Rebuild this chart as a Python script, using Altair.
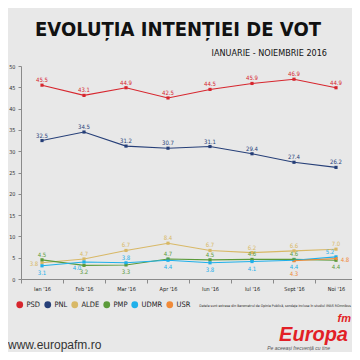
import altair as alt
import pandas as pd

months = ["Ian '16", "Feb '16", "Mar '16", "Apr '16", "Iun '16", "Iul '16", "Sept '16", "Noi '16"]
parties = ["PSD", "PNL", "ALDE", "PMP", "UDMR", "USR"]
colors = ["#d7262e", "#263f78", "#d8b866", "#5b9a3a", "#1fb0ea", "#f08a38"]

psd = [45.5, 43.1, 44.9, 42.5, 44.5, 45.9, 46.9, 44.9]
pnl = [32.5, 34.5, 31.2, 30.7, 31.1, 29.4, 27.4, 26.2]
alde = [3.8, 4.7, 6.7, 8.4, 6.7, 6.2, 6.6, 7.0]
pmp = [4.5, 3.2, 3.3, 4.7, 4.5, 4.6, 4.6, 4.4]
udmr = [3.1, 4.0, 3.8, 4.4, 3.8, 4.1, 4.4, 5.2]
usr = [None, None, None, None, None, None, 4.3, 4.8]

series = {"PSD": psd, "PNL": pnl, "ALDE": alde, "PMP": pmp, "UDMR": udmr, "USR": usr}

# where each value label sits relative to its point
label_side = {
    "PSD": ["a"] * 8,
    "PNL": ["a"] * 8,
    "ALDE": ["l", "a", "a", "a", "a", "a", "a", "a"],
    "PMP": ["a", "b", "b", "a", "a", "a", "a", "b"],
    "UDMR": ["b", "bl", "a", "b", "b", "b", "b", "al"],
    "USR": ["b", "b", "b", "b", "b", "b", "b2", "r"],
}

rows = []
for p in parties:
    for i, m in enumerate(months):
        v = series[p][i]
        if v is None:
            continue
        rows.append({"party": p, "month": m, "value": v,
                     "label": f"{v:.1f}", "side": label_side[p][i]})
df = pd.DataFrame(rows)

FONT_N = "DejaVu Sans Condensed"

x_enc = alt.X("month:O", sort=months,
              scale=alt.Scale(type="band", domain=months, range=[0, 336],
                              paddingInner=0, paddingOuter=0),
              axis=alt.Axis(title=None, labelAngle=0, tickBand="extent", tickSize=4,
                            domainColor="#8a8a8a", tickColor="#8a8a8a",
                            labelFont=FONT_N, labelFontSize=5.5, labelColor="#222",
                            labelPadding=3))
y_enc = alt.Y("value:Q",
              scale=alt.Scale(domain=[0, 50], nice=False),
              axis=alt.Axis(title=None, values=list(range(0, 51, 5)), grid=False,
                            tickSize=3, domainColor="#8a8a8a", tickColor="#8a8a8a",
                            labelFont=FONT_N, labelFontSize=5.5, labelColor="#333",
                            labelPadding=3))

legend = alt.Legend(orient="none", legendX=-5, legendY=235,
                    direction="horizontal", title=None, gridAlign="none",
                    symbolType="circle", symbolSize=46,
                    symbolStrokeWidth=0,
                    labelFont=FONT_N, labelFontSize=7.5,
                    labelColor="#222", columnPadding=3, labelOffset=3)
color = alt.Color("party:N", scale=alt.Scale(domain=parties, range=colors), legend=legend)

base = alt.Chart(df)

points = base.mark_point(filled=True, shape="square", size=10, opacity=1).encode(
    x=x_enc, y=y_enc, color=color,
)
lines = base.mark_line(strokeWidth=1.1).encode(
    x=x_enc, y=y_enc, color=color,
)

offsets = {"a": (0, -5), "b": (0, 7), "l": (-8, 1), "bl": (-7, 6),
           "al": (-6, -5), "r": (9, 1), "b2": (0, 13)}
label_layers = []
for side, (dx, dy) in offsets.items():
    label_layers.append(
        base.transform_filter(alt.datum.side == side)
        .mark_text(font=FONT_N, fontSize=6, dx=dx, dy=dy, baseline="middle")
        .encode(x=x_enc, y=y_enc, text="label:N", color=color)
    )

one = pd.DataFrame({"a": [0]})


def note(text, x, y, **kw):
    return alt.Chart(one).mark_text(text=text, **kw).encode(x=alt.value(x), y=alt.value(y))


title = note("EVOLUȚIA INTENȚIEI DE VOT", 157, -30, font=FONT_N, fontSize=20,
             fontWeight="bold", color="#111", align="center", baseline="alphabetic")
subtitle = note("IANUARIE - NOIEMBRIE 2016", 306, -10, font=FONT_N, fontSize=9,
                color="#111", align="right", baseline="alphabetic")
source = note("Datele sunt extrase din Barometrul de Opinie Publică, sondaje incluse în studiul IMAS ROmnibus",
              330, 240, font=FONT_N, fontSize=3.5, color="#222", align="right", baseline="middle")
url = note("www.europafm.ro", -13, 283, font="Liberation Sans", fontSize=12,
           color="#333", align="left", baseline="alphabetic")
logo = note("Europa", 327, 275, font="Liberation Sans", fontSize=20, fontWeight="bold",
            fontStyle="italic", color="#e21f26", align="right", baseline="alphabetic")
fm = note("fm", 330, 256, font="Liberation Sans", fontSize=11, fontWeight="bold",
          fontStyle="italic", color="#e21f26", align="right", baseline="alphabetic")
tag = note("Pe aceeași frecvență cu tine", 309, 284, font="Liberation Sans", fontSize=5,
           fontStyle="italic", color="#555", align="right", baseline="alphabetic")

chart = alt.layer(points, lines, *label_layers, title, subtitle, source, url, logo, fm, tag).properties(
    width=331, height=213,
    padding={"left": 13, "top": 58, "right": 0, "bottom": 73},
    autosize=alt.AutoSizeParams(type="none"),
    background="#e8e8e8",
).configure_view(stroke=None)

chart.save("out.html", embed_options={"renderer": "svg", "actions": False})
